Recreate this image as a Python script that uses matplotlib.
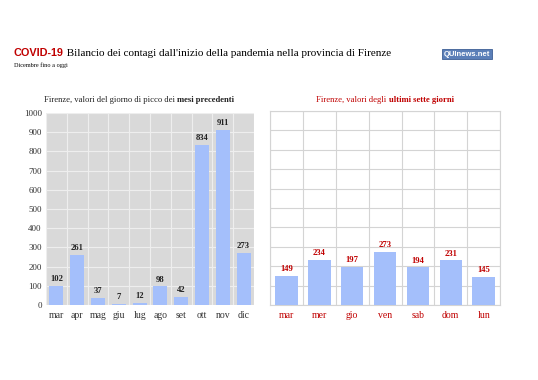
import numpy as np
import matplotlib
matplotlib.use("Agg")
import matplotlib.pyplot as plt

# dati
mesi = ["mar", "apr", "mag", "giu", "lug", "ago", "set", "ott", "nov", "dic"]
picchi_mesi = [102, 261, 37, 7, 12, 98, 42, 834, 911, 273]
giorni = ["mar", "mer", "gio", "ven", "sab", "dom", "lun"]
ultimi_sette = [149, 234, 197, 273, 194, 231, 145]

ROSSO = "#c00000"
BARRA = "#a4bffb"
SERIF = "Liberation Serif"

plt.rcParams["font.family"] = SERIF

fig = plt.figure(figsize=(5.38, 3.8), dpi=100)
fig.patch.set_facecolor("white")


def testo_misto(fig, x, y, parti, ha="left"):
    # parti: lista di (testo, kwargs); scrive i pezzi uno dopo l'altro
    r = fig.canvas.get_renderer()
    objs = []
    for t, kw in parti:
        objs.append(fig.text(0, y, t, va="baseline", **kw))
    widths = [o.get_window_extent(r).width / fig.bbox.width for o in objs]
    tot = sum(widths)
    cx = x - tot / 2 if ha == "center" else x
    for o, w in zip(objs, widths):
        o.set_x(cx)
        cx += w


def pannello(ax, cats, vals, bg, grid_c, lab_c, val_c, show_y):
    x = np.arange(len(cats))
    ax.set_facecolor(bg)
    ax.bar(x, vals, width=0.68, color=BARRA, zorder=3)
    ax.set_xlim(-0.5, len(cats) - 0.5)
    ax.set_ylim(0, 1000)
    ax.set_yticks(np.arange(0, 1001, 100))
    ax.set_xticks(x)
    ax.set_xticklabels(cats, color=lab_c, fontsize=7)
    ax.set_xticks(np.arange(-0.5, len(cats)), minor=True)
    ax.grid(True, which="minor", axis="x", color=grid_c, lw=0.8, zorder=0)
    ax.grid(True, which="major", axis="y", color=grid_c, lw=0.8, zorder=0)
    ax.tick_params(axis="both", which="both", length=0, pad=4)
    if show_y:
        ax.tick_params(axis="y", labelsize=6.5, pad=3, labelcolor="#333333")
    else:
        ax.set_yticklabels([])
    for s in ax.spines.values():
        s.set_visible(False)
    for xi, v in zip(x, vals):
        ax.text(xi, v + 14, str(v), ha="center", va="bottom",
                fontsize=6.2, fontweight="bold", color=val_c, zorder=4)


ax1 = fig.add_axes([0.0855, 0.197, 0.3866, 0.506])
pannello(ax1, mesi, picchi_mesi, "#d9d9d9", "#eeeeee", "#333333", "#222222", True)

ax2 = fig.add_axes([0.502, 0.197, 0.4275, 0.511])
pannello(ax2, giorni, ultimi_sette, "white", "#d4d4d4", ROSSO, ROSSO, False)
for s in ["left", "bottom", "top", "right"]:
    ax2.spines[s].set_visible(True)
    ax2.spines[s].set_color("#d4d4d4")

fig.canvas.draw()

# titolo
testo_misto(fig, 14 / 538, 1 - 56 / 380, [
    ("COVID-19", dict(fontsize=7.8, fontweight="bold", color=ROSSO, family="Liberation Sans")),
    (" Bilancio dei contagi dall'inizio della pandemia nella provincia di Firenze",
     dict(fontsize=8.0, color="black", family=SERIF)),
])
fig.text(14 / 538, 1 - 67 / 380, "Dicembre fino a oggi", fontsize=4.5,
         va="baseline", color="black")

# sottotitoli dei pannelli
testo_misto(fig, 139 / 538, 1 - 102 / 380, [
    ("Firenze, valori del giorno di picco dei ", dict(fontsize=6.2, color="#222222")),
    ("mesi precedenti", dict(fontsize=6.2, fontweight="bold", color="#222222")),
], ha="center")
testo_misto(fig, 385 / 538, 1 - 102 / 380, [
    ("Firenze, valori degli ", dict(fontsize=6.2, color=ROSSO)),
    ("ultimi sette giorni", dict(fontsize=6.2, fontweight="bold", color=ROSSO)),
], ha="center")

# logo
fig.text(467 / 538, 1 - 54 / 380, "QUInews.net", fontsize=5.5, fontweight="bold",
         color="white", ha="center", va="center", family="Liberation Sans",
         bbox=dict(boxstyle="square,pad=0.25", fc="#5b7fb8", ec="#3d5f95", lw=0.6))

fig.savefig("out.png", dpi=100)
